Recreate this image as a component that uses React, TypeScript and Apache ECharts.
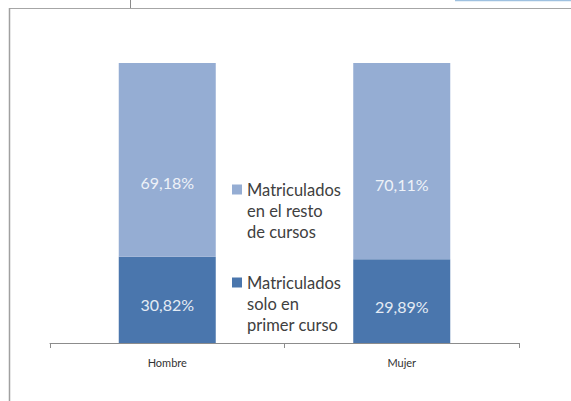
import React, { useEffect, useRef } from "react";
import * as echarts from "echarts";

const categories = ["Hombre", "Mujer"];
const primerCurso = [30.82, 29.89];
const restoCursos = [69.18, 70.11];
const seriesNames = [
  "Matriculados\nsolo en\nprimer curso",
  "Matriculados\nen el resto\nde cursos",
];

const FONT = "Lato";
const fmt = (v: number) => v.toFixed(2).replace(".", ",") + "%";

export default function App() {
  const ref = useRef<HTMLDivElement>(null);
  useEffect(() => {
    if (!ref.current) return;
    const chart = echarts.init(ref.current, undefined, { renderer: "svg" });
    const legendText = {
      fontFamily: FONT,
      fontSize: 16.5,
      color: "#404040",
      lineHeight: 21,
    };
    const legendBase = {
      left: 232,
      padding: 0,
      itemWidth: 10,
      itemHeight: 10,
      itemGap: 0,
      icon: "rect",
      selectedMode: false,
      formatter: (name: string) => " \n \n" + name,
      textStyle: legendText,
    };
    chart.setOption({
      animation: false,
      backgroundColor: "#ffffff",
      grid: { left: 50, right: 52, top: 63, bottom: 58 },
      legend: [
        { ...legendBase, data: [seriesNames[1]], top: 137 },
        { ...legendBase, data: [seriesNames[0]], top: 230 },
      ],
      xAxis: {
        type: "category",
        data: categories,
        axisLine: { lineStyle: { color: "#8c8c8c", width: 1 } },
        axisTick: { show: true, length: 5, lineStyle: { color: "#8c8c8c" } },
        axisLabel: { fontFamily: FONT, fontSize: 11, color: "#333333", margin: 14 },
      },
      yAxis: { type: "value", min: 0, max: 100, show: false },
      series: [
        {
          name: seriesNames[0],
          type: "bar",
          stack: "total",
          data: primerCurso,
          barWidth: 97,
          itemStyle: { color: "#4a76ad" },
          label: {
            show: true,
            position: "inside",
            offset: [0, 5],
            formatter: (p: any) => fmt(p.value),
            color: "#e4ebf4",
            fontFamily: FONT,
            fontSize: 16,
          },
        },
        {
          name: seriesNames[1],
          type: "bar",
          stack: "total",
          data: restoCursos,
          barWidth: 97,
          itemStyle: { color: "#95add3" },
          label: {
            show: true,
            position: "inside",
            offset: [0, 23],
            formatter: (p: any) => fmt(p.value),
            color: "#eef2f8",
            fontFamily: FONT,
            fontSize: 16,
          },
        },
      ],
      graphic: [
        { type: "line", shape: { x1: 9, y1: 8.5, x2: 571, y2: 8.5 }, style: { stroke: "#a6a6a6", lineWidth: 1 } },
        { type: "line", shape: { x1: 9.5, y1: 8, x2: 9.5, y2: 401 }, style: { stroke: "#a0a0a0", lineWidth: 1.5 } },
        { type: "line", shape: { x1: 130.5, y1: 0, x2: 130.5, y2: 8 }, style: { stroke: "#8a8a8a", lineWidth: 1 } },
        { type: "line", shape: { x1: 455, y1: 0.5, x2: 571, y2: 0.5 }, style: { stroke: "#9fc1e0", lineWidth: 1.5 } },
      ],
    });
    return () => chart.dispose();
  }, []);
  return (
    <div
      ref={ref}
      style={{ position: "fixed", left: 0, top: 0, width: 571, height: 401 }}
    />
  );
}
